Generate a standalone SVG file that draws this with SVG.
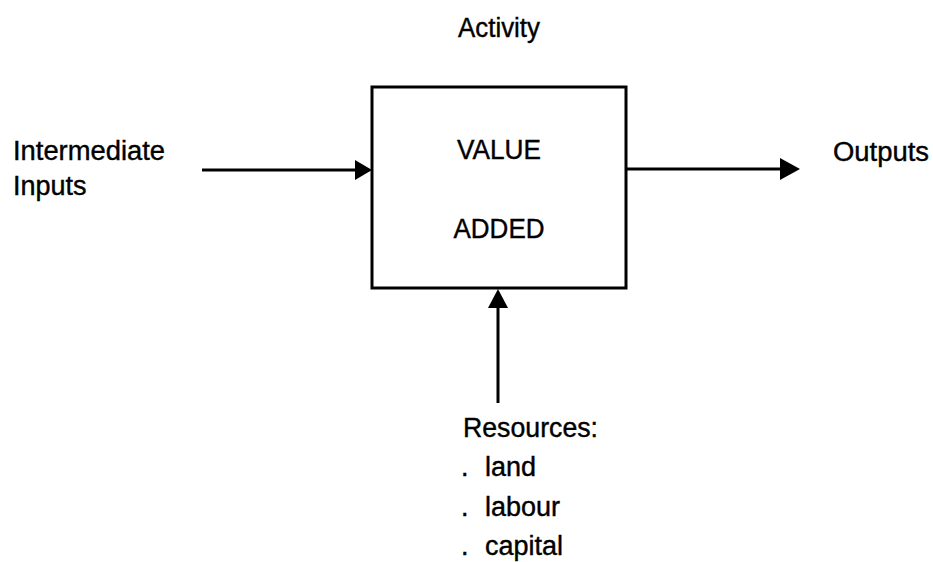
<svg xmlns="http://www.w3.org/2000/svg" width="933" height="562" viewBox="0 0 933 562">
<style>
text{font-family:"Liberation Sans",Arial,sans-serif;font-size:27px;fill:#000;stroke:#000;stroke-width:0.4}
.c{text-anchor:middle}
.ln{stroke:#000;stroke-width:3;fill:none}
</style>
<rect width="933" height="562" fill="#fff"/>
<g id="activity-label"><text class="c" x="499" y="37" textLength="82" lengthAdjust="spacingAndGlyphs">Activity</text></g>
<g id="box">
<rect x="372" y="87" width="254" height="201" fill="#fff" stroke="#000" stroke-width="3"/>
<text class="c" x="499" y="159" textLength="84" lengthAdjust="spacingAndGlyphs">VALUE</text>
<text class="c" x="499" y="238" textLength="91" lengthAdjust="spacingAndGlyphs">ADDED</text>
</g>
<g id="inputs"><text x="13" y="160" textLength="152" lengthAdjust="spacingAndGlyphs">Intermediate</text><text x="13" y="195">Inputs</text></g>
<g id="outputs"><text x="833" y="161" textLength="96" lengthAdjust="spacingAndGlyphs">Outputs</text></g>
<g id="resources">
<text x="463" y="437" textLength="135" lengthAdjust="spacingAndGlyphs">Resources:</text>
<text x="461" y="476">.</text><text x="485" y="476">land</text>
<text x="461" y="516">.</text><text x="485" y="516">labour</text>
<text x="461" y="555">.</text><text x="485" y="555">capital</text>
</g>
<g id="connectors">
<line class="ln" x1="202" y1="170" x2="356" y2="170"/>
<path d="M355,160 L372,170 L355,180 Z" fill="#000"/>
<line class="ln" x1="626" y1="169" x2="782" y2="169"/>
<path d="M780,158 L800,169 L780,180 Z" fill="#000"/>
<line class="ln" x1="498" y1="403" x2="498" y2="305"/>
<path d="M488,308 L498,289 L508,308 Z" fill="#000"/>
</g>
</svg>
